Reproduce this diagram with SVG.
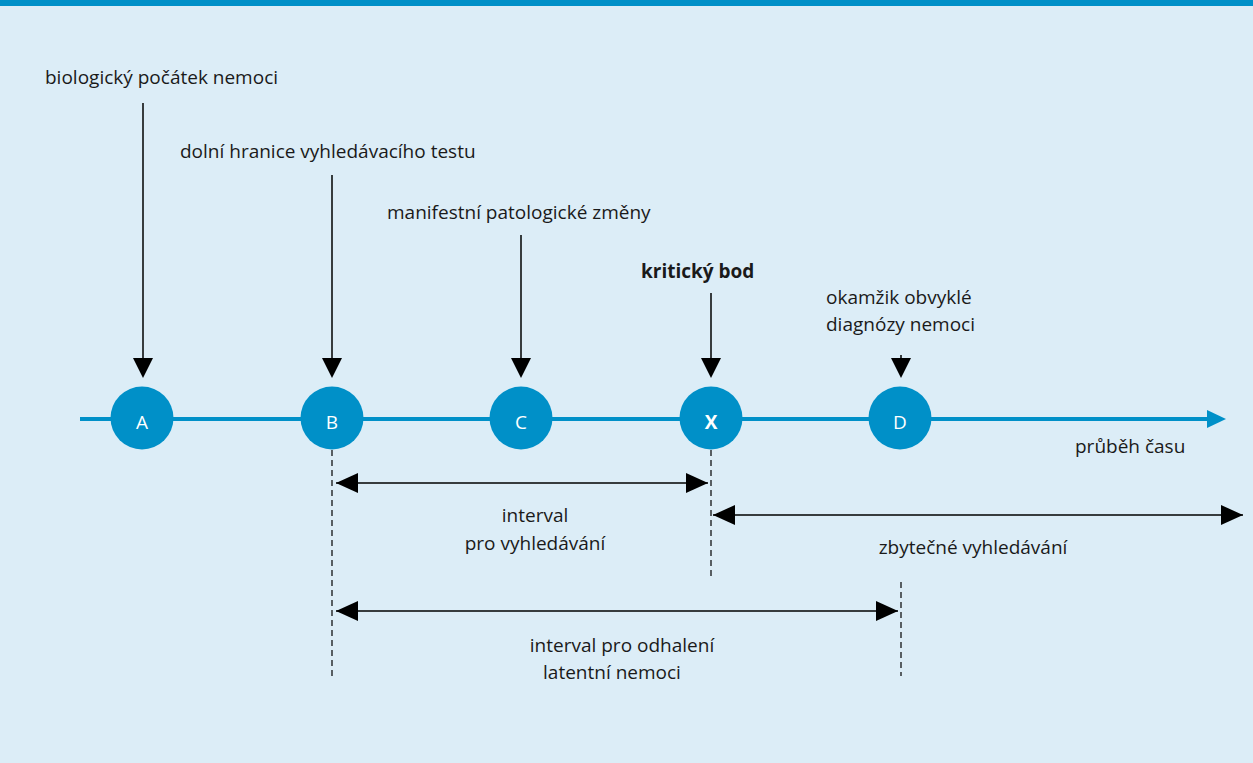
<svg xmlns="http://www.w3.org/2000/svg" width="1253" height="763" viewBox="0 0 1253 763">
  <defs>
    <style>
      .lbl { font-family: "Open Sans", "Noto Sans", sans-serif; font-size: 19px; fill: #1a1a1a; }
      .bold { font-weight: bold; }
      .mid { text-anchor: middle; }
      .node circle { fill: #0090c8; }
      .node text { font-family: "Open Sans", "Noto Sans", sans-serif; font-size: 19px; fill: #ffffff; text-anchor: middle; }
      .pointer { stroke: #000; stroke-width: 1.5; fill: none; }
      .span { stroke: #000; stroke-width: 1.5; fill: none; marker-start: url(#tipL); marker-end: url(#tipR); }
      .guide { stroke: #000; stroke-width: 1.2; stroke-dasharray: 6 4; fill: none; }
    </style>
    <marker id="tipR" markerWidth="22" markerHeight="20" refX="22" refY="10" viewBox="0 0 22 20" markerUnits="userSpaceOnUse" orient="0">
      <path d="M0,0 L22,10 L0,20 Z" fill="#000"/>
    </marker>
    <marker id="tipL" markerWidth="22" markerHeight="20" refX="0" refY="10" viewBox="0 0 22 20" markerUnits="userSpaceOnUse" orient="0">
      <path d="M22,0 L0,10 L22,20 Z" fill="#000"/>
    </marker>
  </defs>

  <!-- background and top band -->
  <rect x="0" y="0" width="1253" height="763" fill="#dcedf7"/>
  <rect x="0" y="0" width="1253" height="6" fill="#0090c8"/>

  <!-- time axis -->
  <g id="axis">
    <line x1="80" y1="419" x2="1210" y2="419" stroke="#0090c8" stroke-width="4"/>
    <path d="M1207,410 L1226,419 L1207,428 Z" fill="#0090c8"/>
    <text class="lbl" x="1075" y="453">průběh času</text>
  </g>

  <!-- connectors -->
  <g id="connectors">
    <!-- pointers onto the axis -->
    <line class="pointer" x1="143" y1="103" x2="143" y2="358"/>
    <path d="M133,358 L153,358 L143,378 Z"/>
    <line class="pointer" x1="332" y1="175" x2="332" y2="358"/>
    <path d="M322,358 L342,358 L332,378 Z"/>
    <line class="pointer" x1="521" y1="235" x2="521" y2="358"/>
    <path d="M511,358 L531,358 L521,378 Z"/>
    <line class="pointer" x1="711" y1="293" x2="711" y2="358"/>
    <path d="M701,358 L721,358 L711,378 Z"/>
    <line class="pointer" x1="901" y1="355" x2="901" y2="358"/>
    <path d="M891,358 L911,358 L901,378 Z"/>

    <!-- dashed guides -->
    <line class="guide" x1="332" y1="450" x2="332" y2="676"/>
    <line class="guide" x1="711" y1="450" x2="711" y2="576"/>
    <line class="guide" x1="901" y1="582" x2="901" y2="676"/>

    <!-- interval spans -->
    <line class="span" x1="336" y1="483" x2="708" y2="483"/>
    <line class="span" x1="713" y1="515" x2="1243" y2="515"/>
    <line class="span" x1="336" y1="611" x2="898" y2="611"/>
  </g>

  <!-- nodes on the axis -->
  <g id="node-A" class="node"><circle cx="142" cy="418" r="31.5"/><text x="142" y="429">A</text></g>
  <g id="node-B" class="node"><circle cx="332" cy="418" r="31.5"/><text x="332" y="429">B</text></g>
  <g id="node-C" class="node"><circle cx="521" cy="418" r="31.5"/><text x="521" y="429">C</text></g>
  <g id="node-X" class="node"><circle cx="711" cy="418" r="31.5"/><text x="711" y="429" font-weight="bold">X</text></g>
  <g id="node-D" class="node"><circle cx="900" cy="418" r="31.5"/><text x="900" y="429">D</text></g>

  <!-- event labels -->
  <g id="labels">
    <text class="lbl" x="45" y="84">biologický počátek nemoci</text>
    <text class="lbl" x="180" y="158">dolní hranice vyhledávacího testu</text>
    <text class="lbl" x="387" y="219">manifestní patologické změny</text>
    <text class="lbl bold" x="641" y="278">kritický bod</text>
    <text class="lbl" x="826" y="304">okamžik obvyklé</text>
    <text class="lbl" x="826" y="331">diagnózy nemoci</text>

    <text class="lbl mid" x="535" y="522">interval</text>
    <text class="lbl mid" x="535" y="550">pro vyhledávání</text>
    <text class="lbl mid" x="973" y="554">zbytečné vyhledávání</text>
    <text class="lbl mid" x="622" y="652">interval pro odhalení</text>
    <text class="lbl mid" x="612" y="679">latentní nemoci</text>
  </g>
</svg>
